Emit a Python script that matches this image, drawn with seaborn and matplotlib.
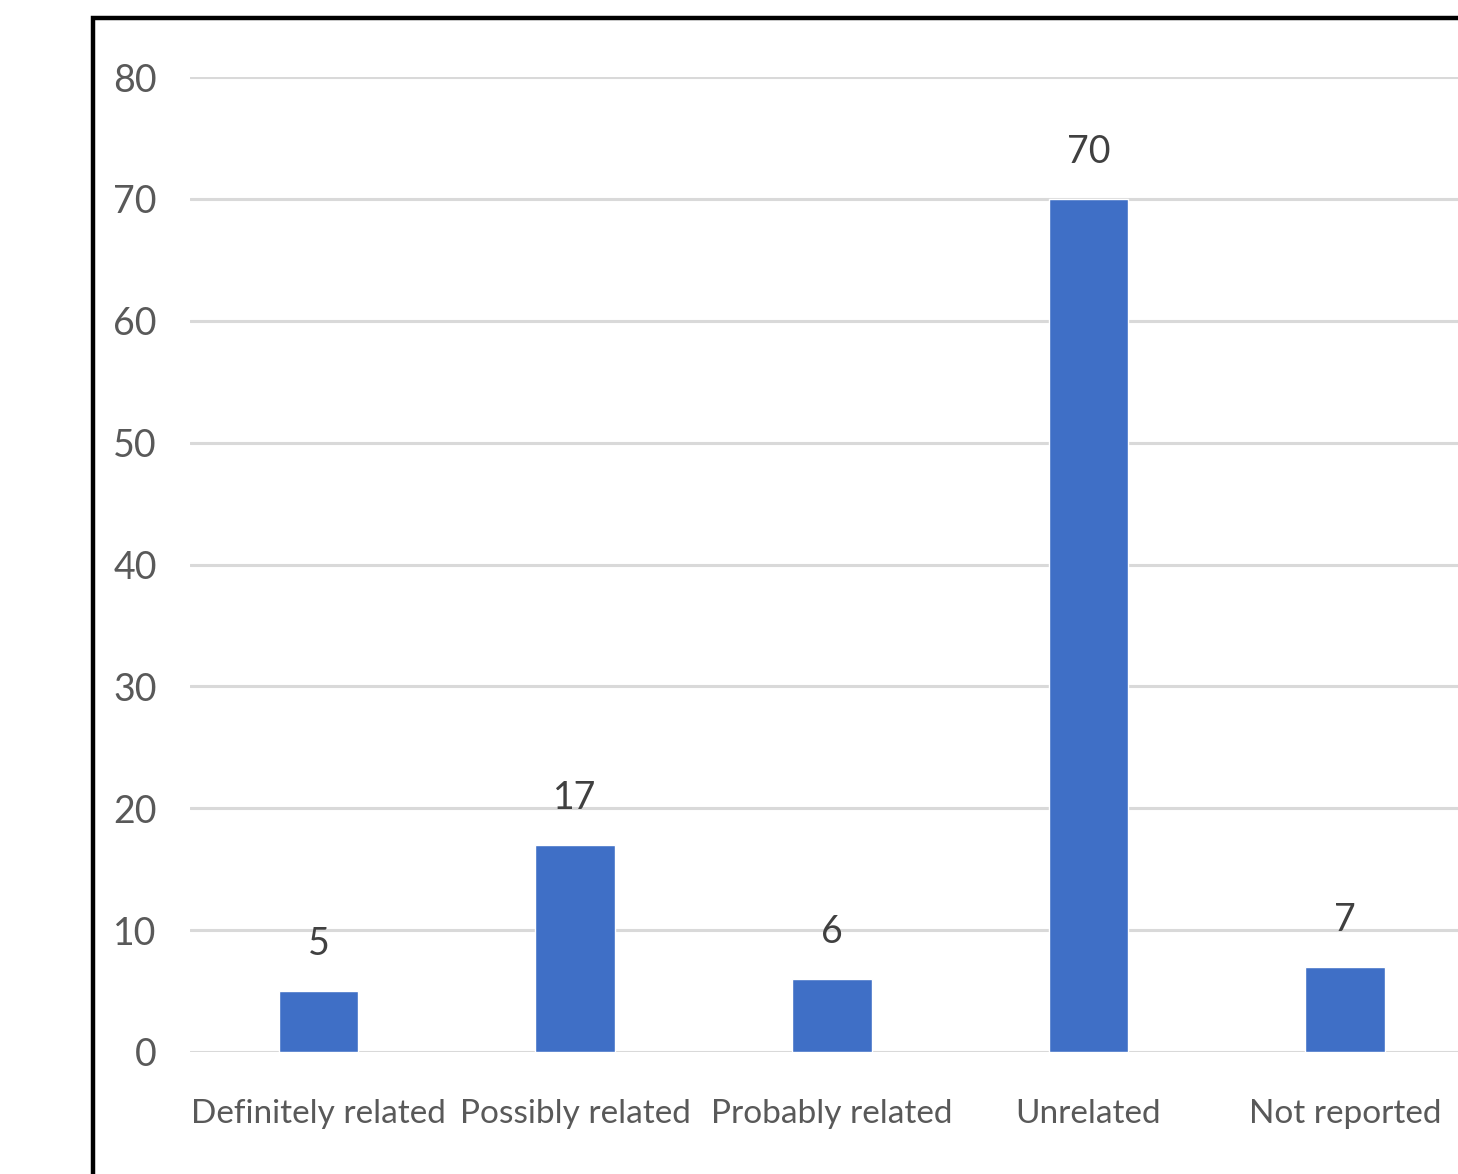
import matplotlib
matplotlib.use("Agg")
import matplotlib.pyplot as plt
import matplotlib.patches as mpatches
import seaborn as sns
import pandas as pd

categories = ["Definitely related", "Possibly related", "Probably related", "Unrelated", "Not reported"]
counts = [5, 17, 6, 70, 7]
y_ticks = [0, 10, 20, 30, 40, 50, 60, 70, 80]

sns.set_theme(style="white")
plt.rcParams["font.family"] = ["Lato", "DejaVu Sans"]

df = pd.DataFrame({"category": categories, "count": counts})

W, H = 1458, 1174
fig = plt.figure(figsize=(W / 100, H / 100), dpi=100)
fig.patch.set_facecolor("white")

# plot area: x from -0.5 to 4.5, y from 0 to 80 (right side runs off the canvas)
left, right = 190 / W, 1473.5 / W
bottom, top = (H - 1052) / H, (H - 77) / H
ax = fig.add_axes([left, bottom, right - left, top - bottom])

sns.barplot(data=df, x="category", y="count", color="#3f6fc6", width=0.31,
            saturation=1, ax=ax, zorder=3)

ax.set_xlim(-0.5, 4.5)
ax.set_ylim(0, 80)
ax.set_yticks(y_ticks)
ax.yaxis.grid(True, color="#d9d9d9", linewidth=2.2, zorder=0)
ax.set_axisbelow(True)
for s in ax.spines.values():
    s.set_visible(False)

ax.tick_params(axis="y", length=0, pad=24, labelsize=27, labelcolor="#595959")
ax.tick_params(axis="x", length=0, pad=34, labelsize=24, labelcolor="#595959")
ax.set_xlabel("")
ax.set_ylabel("")

for i, v in enumerate(counts):
    ax.annotate(str(v), (i, v), xytext=(0, 21), textcoords="offset points",
                ha="center", va="bottom", fontsize=27, color="#404040")

# black frame around the chart
frame_left, frame_top = 93 / W, 1 - 18 / H
frame = mpatches.Rectangle((frame_left, -0.2), 1.2, frame_top + 0.2,
                           transform=fig.transFigure, fill=False,
                           edgecolor="black", linewidth=3.2, zorder=10)
fig.patches.append(frame)

fig.savefig("out.png", dpi=100, facecolor="white")
